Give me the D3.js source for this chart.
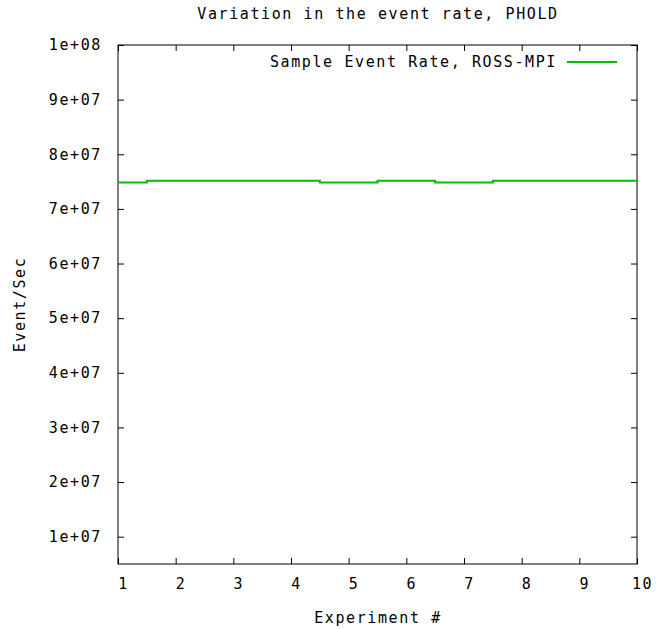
<!DOCTYPE html>
<html>
<head>
<meta charset="utf-8">
<script src="https://cdn.jsdelivr.net/npm/d3@7"></script>
<style>
  body { margin: 0; background: #fff; }
  text { font-family: "DejaVu Sans Mono", monospace; font-size: 15px; letter-spacing: 1.6px; fill: #000; }
</style>
</head>
<body>
<div id="chart-area"></div>
<script>
// data
var experiments = [1, 2, 3, 4, 5, 6, 7, 8, 9, 10];
var eventRates = [7.485e7, 7.515e7, 7.515e7, 7.515e7, 7.485e7, 7.515e7, 7.485e7, 7.515e7, 7.515e7, 7.515e7];
var yTicks = [1e7, 2e7, 3e7, 4e7, 5e7, 6e7, 7e7, 8e7, 9e7, 1e8];
var seriesName = "Sample Event Rate, ROSS-MPI";

var margin = { left: 118, right: 28, top: 45, bottom: 65 };
var width = 665 - margin.left - margin.right,
    height = 629 - margin.top - margin.bottom;

var svg = d3.select("#chart-area").append("svg")
    .attr("width", 665)
    .attr("height", 629);

var g = svg.append("g").attr("transform", "translate(" + margin.left + "," + margin.top + ")");

var x = d3.scaleLinear().domain([1, 10]).range([0, width]);
var y = d3.scaleLinear().domain([5e6, 1e8]).range([height, 0]);

var tickLen = 6;

// ticks on all four sides, pointing inward
var bottomAxis = d3.axisBottom(x).tickValues(experiments).tickSize(-tickLen).tickPadding(14)
    .tickFormat(d3.format("d"));
var topAxis = d3.axisTop(x).tickValues(experiments).tickSize(-tickLen).tickFormat("");
var leftAxis = d3.axisLeft(y).tickValues(yTicks).tickSize(-tickLen).tickPadding(16)
    .tickFormat(function(d) { return d3.format(".0e")(d).replace("e+", "e+0"); });
var rightAxis = d3.axisRight(y).tickValues(yTicks).tickSize(-tickLen).tickFormat("");

var xAxisGroup = g.append("g").attr("transform", "translate(0," + height + ")").call(bottomAxis);
g.append("g").call(topAxis);
var yAxisGroup = g.append("g").call(leftAxis);
g.append("g").attr("transform", "translate(" + width + ",0)").call(rightAxis);

g.selectAll(".domain").remove();
g.selectAll(".tick line").attr("stroke", "#000");
xAxisGroup.selectAll("text").attr("dx", 5).attr("font-size", null);
yAxisGroup.selectAll("text").attr("font-size", null);
g.selectAll(".tick text").style("fill", "#000");
svg.selectAll("g").attr("font-family", null);

// frame
g.append("rect")
    .attr("x", 0).attr("y", 0)
    .attr("width", width).attr("height", height)
    .attr("fill", "none")
    .attr("stroke", "#000")
    .attr("stroke-width", 1);

// step line (histeps)
var line = d3.line()
    .x(function(d, i) { return x(experiments[i]); })
    .y(function(d) { return y(d); })
    .curve(d3.curveStep);

g.append("path")
    .datum(eventRates)
    .attr("fill", "none")
    .attr("stroke", "#00c000")
    .attr("stroke-width", 2)
    .attr("d", line);

// legend
g.append("text")
    .attr("x", 439)
    .attr("y", 22)
    .attr("text-anchor", "end")
    .text(seriesName);
g.append("line")
    .attr("x1", 449).attr("x2", 499)
    .attr("y1", 17).attr("y2", 17)
    .attr("stroke", "#00c000")
    .attr("stroke-width", 2);

// title
svg.append("text")
    .attr("x", 378)
    .attr("y", 19)
    .attr("text-anchor", "middle")
    .text("Variation in the event rate, PHOLD");

// X Label
svg.append("text")
    .attr("x", 378)
    .attr("y", 623)
    .attr("text-anchor", "middle")
    .text("Experiment #");

// Y Label
svg.append("text")
    .attr("transform", "translate(25," + (margin.top + height / 2) + ") rotate(-90)")
    .attr("text-anchor", "middle")
    .text("Event/Sec");
</script>
</body>
</html>
